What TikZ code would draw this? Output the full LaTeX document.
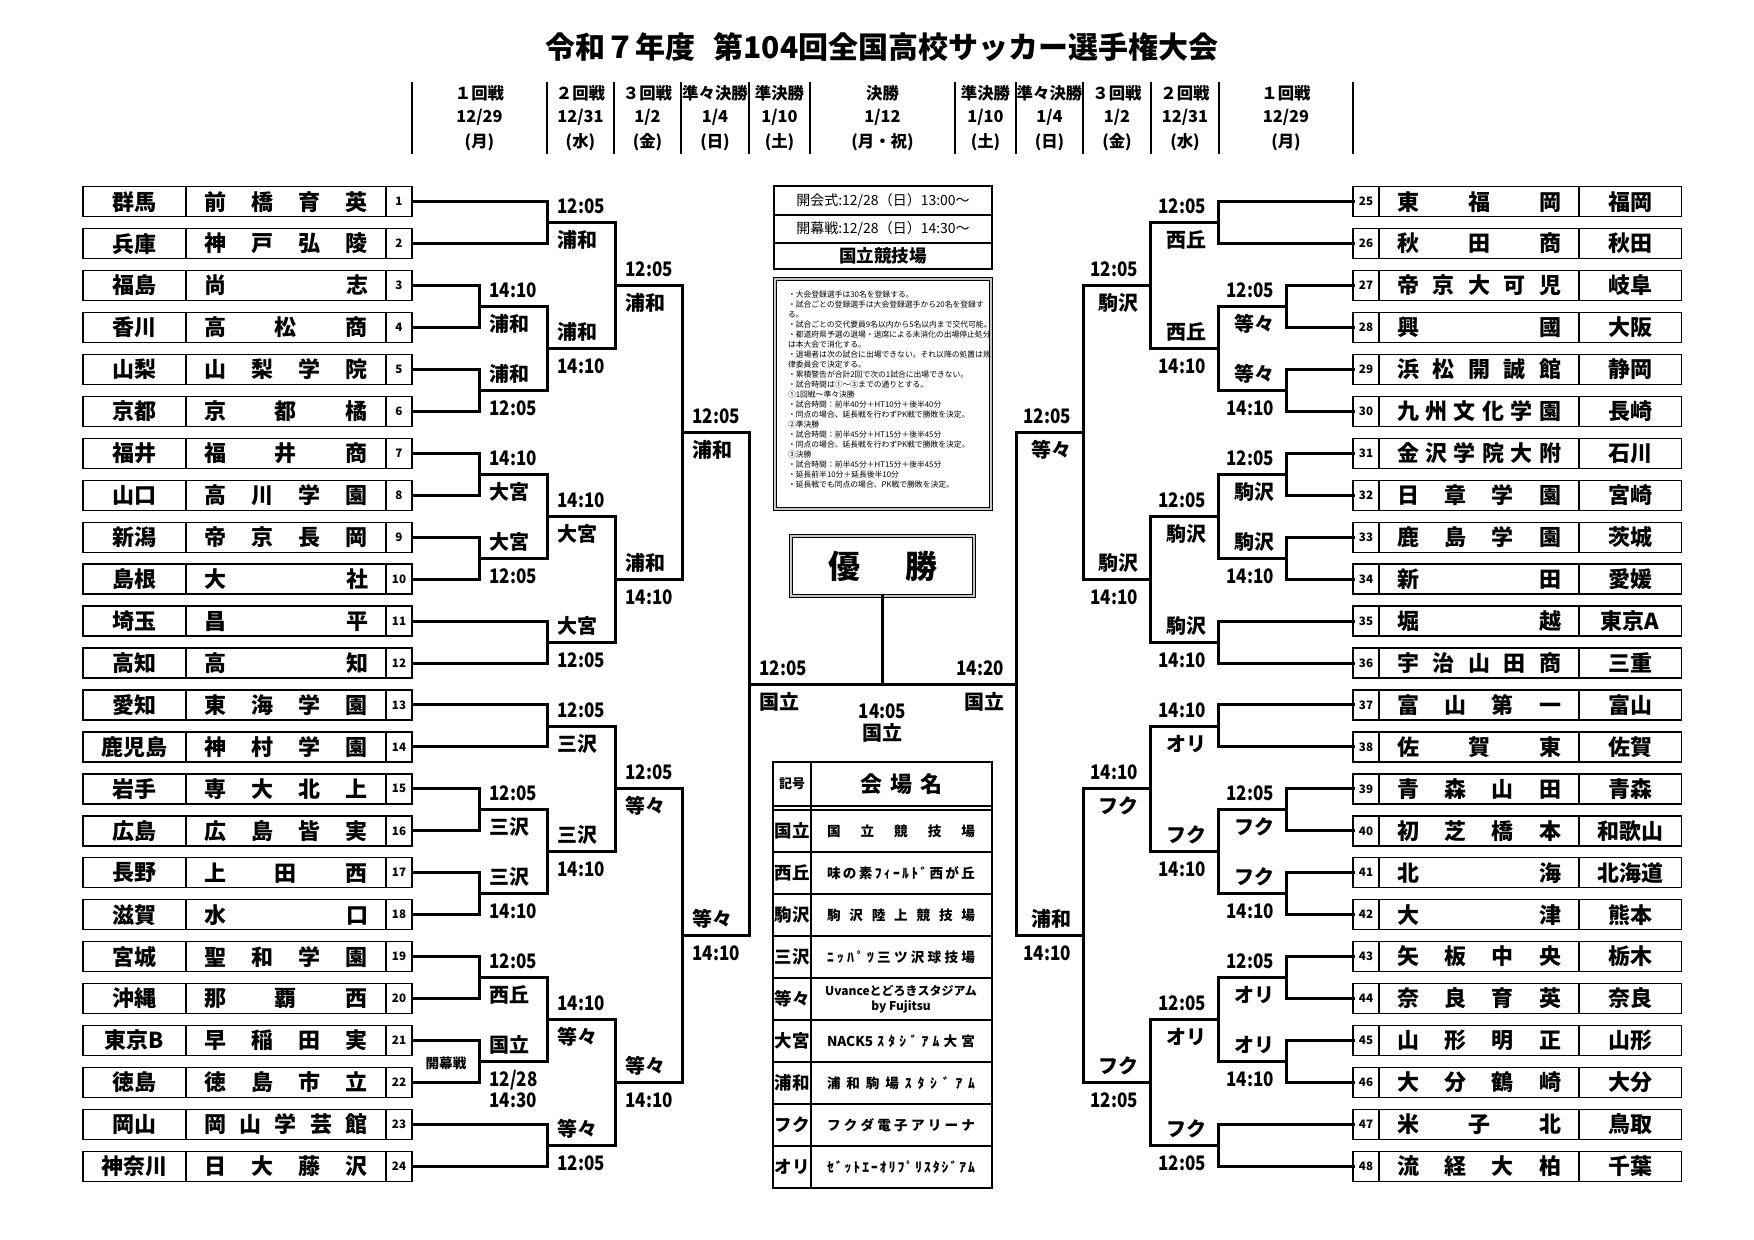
\documentclass[tikz,border=0pt]{standalone}
\usepackage{fontspec}
\setmainfont{Noto Sans CJK JP}
\newfontfamily\tmfont{Noto Sans CJK JP}[FakeStretch=0.85]
\makeatletter
\newcommand\spreadtxt[2]{\edef\my@list{#2}\makebox[#1][s]{\let\my@sep\relax\expandafter\my@spread\expandafter{\my@list}}}
\def\my@spread#1{\@tfor\my@ch:=#1\do{\my@sep\my@ch\let\my@sep\hfill}}
\makeatother
\newcommand\fsz[1]{\fontsize{#1}{#1}\selectfont}
\newcommand\tma{{\tmfont 12:05}}
\newcommand\tmb{{\tmfont 14:10}}
\newcommand\tmx[1]{{\tmfont #1}}
\tikzset{
 every node/.style={inner sep=0pt, outer sep=0pt},
 tbox/.style={draw, line width=0.7pt, minimum height=15pt, font=\fsz{11}\bfseries},
 prefbox/.style={tbox, minimum width=51.5pt},
 namebox/.style={tbox, minimum width=100pt},
 numbox/.style={draw, line width=0.7pt, minimum height=15pt, minimum width=13pt, font=\fsz{5.8}\bfseries},
 br/.style={line width=1.5pt, line cap=rect},
 labL/.style={anchor=base west, font=\fsz{10}\bfseries},
 labR/.style={anchor=base east, font=\fsz{10}\bfseries},
 hdr/.style={anchor=base, font=\fsz{8.2}\bfseries},
 note/.style={anchor=base west, font=\fsz{3.9}},
 vabbr/.style={font=\fsz{8.75}\bfseries},
 vname/.style={font=\fsz{6.8}\bfseries},
 thin/.style={line width=0.7pt},
}
\newcommand\mtL[7]{\coordinate (#1) at (#2,#3);
 \draw[br] (#4) -| (#1) |- (#5);
 \node[labL] (#1up) at ({#2+10.5},{#3-9}) {#6};
 \node[labL] (#1dn) at ({#2+10.5},{#3+25}) {#7};}
\newcommand\mtR[7]{\coordinate (#1) at (#2,#3);
 \draw[br] (#4) -| (#1) |- (#5);
 \node[labR] (#1up) at ({#2-12},{#3-9}) {#6};
 \node[labR] (#1dn) at ({#2-12},{#3+25}) {#7};}
\newcommand\hcol[5]{\node[hdr] (#1a) at (#2,100) {#3};
 \node[hdr] (#1b) at (#2,123) {#4};
 \node[hdr] (#1c) at (#2,148) {#5};}
\newcommand\venue[4]{\node[vabbr] (#1a) at (792,#2) {#3};
 \node[vname] (#1n) at (901,#2) {\spreadtxt{74pt}{#4}};}
\newcommand\nline[2]{\node[note] (note#1) at (788,{297.3+(#1-1)*10}) {#2};}
\begin{document}
\begin{tikzpicture}[x=0.5pt,y=-0.5pt]
\useasboundingbox (0,0) rectangle (1754,1240);
\fill[white] (0,0) rectangle (1754,1240);
% title
\node[anchor=base, font=\fsz{15}\bfseries] (title) at (882,59) {令和７年度\hspace{9pt}第104回全国高校サッカー選手権大会};
% header
\foreach \x [count=\k] in {412,547,614,681,749,810,955,1016,1083,1151,1219,1353}
  \draw[line width=0.6pt] (\x,82) coordinate (hl\k) -- (\x,154);
\hcol{h1}{479.5}{１回戦}{12/29}{(月)}
\hcol{h2}{580.5}{２回戦}{12/31}{(水)}
\hcol{h3}{647.5}{３回戦}{1/2}{(金)}
\hcol{h4}{715}{準々決勝}{1/4}{(日)}
\hcol{h5}{779.5}{準決勝}{1/10}{(土)}
\hcol{h6}{882.5}{決勝}{1/12}{(月・祝)}
\hcol{h7}{985.5}{準決勝}{1/10}{(土)}
\hcol{h8}{1049.5}{準々決勝}{1/4}{(日)}
\hcol{h9}{1117}{３回戦}{1/2}{(金)}
\hcol{h10}{1185}{２回戦}{12/31}{(水)}
\hcol{h11}{1286}{１回戦}{12/29}{(月)}
% left teams
\foreach \i/\p/\n [evaluate=\i as \yy using 201.7+(\i-1)*41.94] in {1/群馬/前橋育英,2/兵庫/神戸弘陵,3/福島/尚志,4/香川/高松商,5/山梨/山梨学院,6/京都/京都橘,7/福井/福井商,8/山口/高川学園,9/新潟/帝京長岡,10/島根/大社,11/埼玉/昌平,12/高知/高知,13/愛知/東海学園,14/鹿児島/神村学園,15/岩手/専大北上,16/広島/広島皆実,17/長野/上田西,18/滋賀/水口,19/宮城/聖和学園,20/沖縄/那覇西,21/東京B/早稲田実,22/徳島/徳島市立,23/岡山/岡山学芸館,24/神奈川/日大藤沢}{
  \node[prefbox] (LP\i) at (134.5,\yy) {\p};
  \node[namebox] (LN\i) at (286,\yy) {\spreadtxt{82pt}{\n}};
  \node[numbox] (LB\i) at (399,\yy) {\i};
}
% right teams
\foreach \i/\p/\n [evaluate=\i as \yy using 201.7+(\i-25)*41.94] in {25/福岡/東福岡,26/秋田/秋田商,27/岐阜/帝京大可児,28/大阪/興國,29/静岡/浜松開誠館,30/長崎/九州文化学園,31/石川/金沢学院大附,32/宮崎/日章学園,33/茨城/鹿島学園,34/愛媛/新田,35/東京A/堀越,36/三重/宇治山田商,37/富山/富山第一,38/佐賀/佐賀東,39/青森/青森山田,40/和歌山/初芝橋本,41/北海道/北海,42/熊本/大津,43/栃木/矢板中央,44/奈良/奈良育英,45/山形/山形明正,46/大分/大分鶴崎,47/鳥取/米子北,48/千葉/流経大柏}{
  \node[numbox] (RB\i) at (1366,\yy) {\i};
  \node[namebox] (RN\i) at (1479,\yy) {\spreadtxt{82pt}{\n}};
  \node[prefbox] (RP\i) at (1630,\yy) {\p};
}
% left bracket
\mtL{La1}{479}{306.6}{LB3.east}{LB4.east}{\tmb}{浦和}
\mtL{La2}{479}{390.4}{LB5.east}{LB6.east}{浦和}{\tma}
\mtL{La3}{479}{474.3}{LB7.east}{LB8.east}{\tmb}{大宮}
\mtL{La4}{479}{558.2}{LB9.east}{LB10.east}{大宮}{\tma}
\mtL{La5}{479}{809.8}{LB15.east}{LB16.east}{\tma}{三沢}
\mtL{La6}{479}{893.7}{LB17.east}{LB18.east}{三沢}{\tmb}
\mtL{La7}{479}{977.6}{LB19.east}{LB20.east}{\tma}{西丘}
\mtL{La8}{479}{1061.5}{LB21.east}{LB22.east}{国立}{\tmx{12/28}}
\node[labL] (La8dn2) at (489.5,1107.5) {\tmx{14:30}};
\node[font=\fsz{6.8}\bfseries] (kaimaku) at (446,1063) {開幕戦};
\mtL{Lb1}{547}{222.7}{LB1.east}{LB2.east}{\tma}{浦和}
\mtL{Lb2}{547}{348.5}{La1}{La2}{浦和}{\tmb}
\mtL{Lb3}{547}{516.2}{La3}{La4}{\tmb}{大宮}
\mtL{Lb4}{547}{642.1}{LB11.east}{LB12.east}{大宮}{\tma}
\mtL{Lb5}{547}{726.0}{LB13.east}{LB14.east}{\tma}{三沢}
\mtL{Lb6}{547}{851.8}{La5}{La6}{三沢}{\tmb}
\mtL{Lb7}{547}{1019.6}{La7}{La8}{\tmb}{等々}
\mtL{Lb8}{547}{1145.4}{LB23.east}{LB24.east}{等々}{\tma}
\mtL{Lc1}{615}{285.6}{Lb1}{Lb2}{\tma}{浦和}
\mtL{Lc2}{615}{579.2}{Lb3}{Lb4}{浦和}{\tmb}
\mtL{Lc3}{615}{788.9}{Lb5}{Lb6}{\tma}{等々}
\mtL{Lc4}{615}{1082.5}{Lb7}{Lb8}{等々}{\tmb}
\mtL{Ld1}{682}{432.4}{Lc1}{Lc2}{\tma}{浦和}
\mtL{Ld2}{682}{935.7}{Lc3}{Lc4}{等々}{\tmb}
\mtL{Le}{749}{684}{Ld1}{Ld2}{\tma}{国立}
% right bracket
\mtR{Ra1}{1286}{306.6}{RB27.west}{RB28.west}{\tma}{等々}
\mtR{Ra2}{1286}{390.4}{RB29.west}{RB30.west}{等々}{\tmb}
\mtR{Ra3}{1286}{474.3}{RB31.west}{RB32.west}{\tma}{駒沢}
\mtR{Ra4}{1286}{558.2}{RB33.west}{RB34.west}{駒沢}{\tmb}
\mtR{Ra5}{1286}{809.8}{RB39.west}{RB40.west}{\tma}{フク}
\mtR{Ra6}{1286}{893.7}{RB41.west}{RB42.west}{フク}{\tmb}
\mtR{Ra7}{1286}{977.6}{RB43.west}{RB44.west}{\tma}{オリ}
\mtR{Ra8}{1286}{1061.5}{RB45.west}{RB46.west}{オリ}{\tmb}
\mtR{Rb1}{1218}{222.7}{RB25.west}{RB26.west}{\tma}{西丘}
\mtR{Rb2}{1218}{348.5}{Ra1}{Ra2}{西丘}{\tmb}
\mtR{Rb3}{1218}{516.2}{Ra3}{Ra4}{\tma}{駒沢}
\mtR{Rb4}{1218}{642.1}{RB35.west}{RB36.west}{駒沢}{\tmb}
\mtR{Rb5}{1218}{726.0}{RB37.west}{RB38.west}{\tmb}{オリ}
\mtR{Rb6}{1218}{851.8}{Ra5}{Ra6}{フク}{\tmb}
\mtR{Rb7}{1218}{1019.6}{Ra7}{Ra8}{\tma}{オリ}
\mtR{Rb8}{1218}{1145.4}{RB47.west}{RB48.west}{フク}{\tma}
\mtR{Rc1}{1150}{285.6}{Rb1}{Rb2}{\tma}{駒沢}
\mtR{Rc2}{1150}{579.2}{Rb3}{Rb4}{駒沢}{\tmb}
\mtR{Rc3}{1150}{788.9}{Rb5}{Rb6}{\tmb}{フク}
\mtR{Rc4}{1150}{1082.5}{Rb7}{Rb8}{フク}{\tma}
\mtR{Rd1}{1083}{432.4}{Rc1}{Rc2}{\tma}{等々}
\mtR{Rd2}{1083}{935.7}{Rc3}{Rc4}{浦和}{\tmb}
\mtR{Re}{1016}{684}{Rd1}{Rd2}{\tmx{14:20}}{国立}
% final
\draw[br] (Le) -- (Re);
\node[draw, line width=0.45pt, double=gray!45, double distance=1pt, minimum width=91.5pt, minimum height=30pt] (win) at (882.5,566) {\fsz{16}\bfseries\makebox[54.5pt][s]{優\hfill 勝}};
\coordinate (FM) at (882.5,684);
\draw[br] (win.south) -- (FM);
\node[anchor=base, font=\fsz{10}\bfseries] (fin1) at (882.5,718) {\tmx{14:05}};
\node[anchor=base, font=\fsz{10}\bfseries] (fin2) at (882.5,740) {国立};
% info box
\node[draw, thin, minimum width=109pt, minimum height=14.5pt, font=\fsz{7}] (info1) at (883,200.5) {開会式:12/28（日）13:00～};
\node[draw, thin, minimum width=109pt, minimum height=14pt, font=\fsz{7}] (info2) at (883,229) {開幕戦:12/28（日）14:30～};
\node[draw, thin, minimum width=109pt, minimum height=13pt, font=\fsz{8.75}\bfseries] (info3) at (883,256) {国立競技場};
% notes
\node[draw, line width=0.45pt, double=gray!45, double distance=1pt, minimum width=108pt, minimum height=115pt] (notes) at (883,394) {};
\nline{1}{・大会登録選手は30名を登録する。}
\nline{2}{・試合ごとの登録選手は大会登録選手から20名を登録す}
\nline{3}{る。}
\nline{4}{・試合ごとの交代要員9名以内から5名以内まで交代可能。}
\nline{5}{・都道府県予選の退場・退席による未消化の出場停止処分}
\nline{6}{は本大会で消化する。}
\nline{7}{・退場者は次の試合に出場できない。それ以降の処置は規}
\nline{8}{律委員会で決定する。}
\nline{9}{・累積警告が合計2回で次の1試合に出場できない。}
\nline{10}{・試合時間は①～③までの通りとする。}
\nline{11}{①1回戦～準々決勝}
\nline{12}{・試合時間：前半40分＋HT10分＋後半40分}
\nline{13}{・同点の場合、延長戦を行わずPK戦で勝敗を決定。}
\nline{14}{②準決勝}
\nline{15}{・試合時間：前半45分＋HT15分＋後半45分}
\nline{16}{・同点の場合、延長戦を行わずPK戦で勝敗を決定。}
\nline{17}{③決勝}
\nline{18}{・試合時間：前半45分＋HT15分＋後半45分}
\nline{19}{・延長前半10分＋延長後半10分}
\nline{20}{・延長戦でも同点の場合、PK戦で勝敗を決定。}
% venue table
\draw[thin] (773,762) rectangle (992,1188);
\draw[thin] (811,762) -- (811,1188);
\draw[thin] (773,806) -- (992,806);
\draw[thin] (773,810) -- (992,810);
\foreach \y in {852,894,936,978,1020,1062,1104,1146} \draw[thin] (773,\y) -- (992,\y);
\node[font=\fsz{6.5}\bfseries] (vh1) at (792,784) {記号};
\node[font=\fsz{11}\bfseries] (vh2) at (901.5,784) {\spreadtxt{41.5pt}{会場名}};
\venue{v1}{831}{国立}{国立競技場}
\venue{v2}{873}{西丘}{味の素ﾌｨｰﾙﾄﾞ西が丘}
\venue{v3}{915}{駒沢}{駒沢陸上競技場}
\venue{v4}{957}{三沢}{ﾆｯﾊﾟﾂ三ツ沢球技場}
\node[vabbr] (v5a) at (792,999) {等々};
\node[font=\fsz{6}\bfseries] (v5n) at (901,991) {Uvanceとどろきスタジアム};
\node[font=\fsz{6}\bfseries] (v5m) at (901,1007) {by Fujitsu};
\venue{v6}{1041}{大宮}{{NACK5}ｽﾀｼﾞｱﾑ大宮}
\venue{v7}{1083}{浦和}{浦和駒場ｽﾀｼﾞｱﾑ}
\venue{v8}{1125}{フク}{フクダ電子アリーナ}
\venue{v9}{1167}{オリ}{ｾﾞｯﾄｴｰｵﾘﾌﾟﾘｽﾀｼﾞｱﾑ}
\end{tikzpicture}
\end{document}
